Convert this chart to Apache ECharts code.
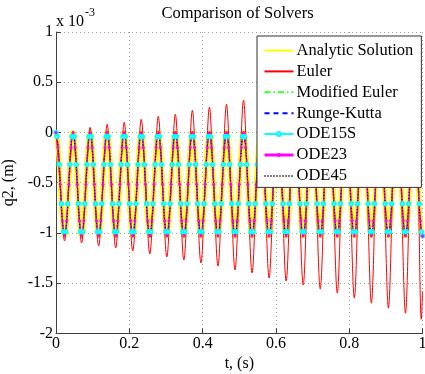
<!DOCTYPE html>
<html>
<head>
<meta charset="utf-8">
<script src="https://cdn.jsdelivr.net/npm/echarts@6/dist/echarts.min.js"></script>
<style>
html,body{margin:0;padding:0;background:#fff;}
#chart{width:425px;height:374px;}
</style>
</head>
<body>
<div id="chart"></div>
<script>
// Time samples of the solver solutions (s), 8 per cycle
const tSolver = [
0, 0.0058, 0.0116, 0.0174, 0.0233, 0.0291, 0.0349, 0.0407,
0.0465, 0.0523, 0.0581, 0.0639, 0.0698, 0.0756, 0.0814, 0.0872,
0.093, 0.0988, 0.1046, 0.1104, 0.1163, 0.1221, 0.1279, 0.1337,
0.1395, 0.1453, 0.1511, 0.1569, 0.1628, 0.1686, 0.1744, 0.1802,
0.186, 0.1918, 0.1976, 0.2034, 0.2093, 0.2151, 0.2209, 0.2267,
0.2325, 0.2383, 0.2441, 0.2499, 0.2558, 0.2616, 0.2674, 0.2732,
0.279, 0.2848, 0.2906, 0.2964, 0.3023, 0.3081, 0.3139, 0.3197,
0.3255, 0.3313, 0.3371, 0.3429, 0.3488, 0.3546, 0.3604, 0.3662,
0.372, 0.3778, 0.3836, 0.3894, 0.3953, 0.4011, 0.4069, 0.4127,
0.4185, 0.4243, 0.4301, 0.4359, 0.4418, 0.4476, 0.4534, 0.4592,
0.465, 0.4708, 0.4766, 0.4824, 0.4883, 0.4941, 0.4999, 0.5057,
0.5115, 0.5173, 0.5231, 0.5289, 0.5348, 0.5406, 0.5464, 0.5522,
0.558, 0.5638, 0.5696, 0.5754, 0.5813, 0.5871, 0.5929, 0.5987,
0.6045, 0.6103, 0.6161, 0.6219, 0.6278, 0.6336, 0.6394, 0.6452,
0.651, 0.6568, 0.6626, 0.6684, 0.6743, 0.6801, 0.6859, 0.6917,
0.6975, 0.7033, 0.7091, 0.7149, 0.7208, 0.7266, 0.7324, 0.7382,
0.744, 0.7498, 0.7556, 0.7614, 0.7673, 0.7731, 0.7789, 0.7847,
0.7905, 0.7963, 0.8021, 0.8079, 0.8138, 0.8196, 0.8254, 0.8312,
0.837, 0.8428, 0.8486, 0.8544, 0.8603, 0.8661, 0.8719, 0.8777,
0.8835, 0.8893, 0.8951, 0.9009, 0.9068, 0.9126, 0.9184, 0.9242,
0.93, 0.9358, 0.9416, 0.9474, 0.9533, 0.9591, 0.9649, 0.9707,
0.9765, 0.9823, 0.9881, 0.9939, 0.9998, 1.0
];
// Analytic solution q2 (x 10^-3 m); Modified Euler, Runge-Kutta, ODE23, ODE45 coincide with it
const analytic = [
0, -0.15, -0.515, -0.88, -1.03, -0.88, -0.515, -0.15,
0, -0.15, -0.515, -0.88, -1.03, -0.88, -0.515, -0.15,
0, -0.15, -0.515, -0.88, -1.03, -0.88, -0.515, -0.15,
0, -0.15, -0.515, -0.88, -1.03, -0.88, -0.515, -0.15,
0, -0.15, -0.515, -0.88, -1.03, -0.88, -0.515, -0.15,
0, -0.15, -0.515, -0.88, -1.03, -0.88, -0.515, -0.15,
0, -0.15, -0.515, -0.88, -1.03, -0.88, -0.515, -0.15,
0, -0.15, -0.515, -0.88, -1.03, -0.88, -0.515, -0.15,
0, -0.15, -0.515, -0.88, -1.03, -0.88, -0.515, -0.15,
0, -0.15, -0.515, -0.88, -1.03, -0.88, -0.515, -0.15,
0, -0.15, -0.515, -0.88, -1.03, -0.88, -0.515, -0.15,
0, -0.15, -0.515, -0.88, -1.03, -0.88, -0.515, -0.15,
0, -0.15, -0.515, -0.88, -1.03, -0.88, -0.515, -0.15,
0, -0.15, -0.515, -0.88, -1.03, -0.88, -0.515, -0.15,
0, -0.15, -0.515, -0.88, -1.03, -0.88, -0.515, -0.15,
0, -0.15, -0.515, -0.88, -1.03, -0.88, -0.515, -0.15,
0, -0.15, -0.515, -0.88, -1.03, -0.88, -0.515, -0.15,
0, -0.15, -0.515, -0.88, -1.03, -0.88, -0.515, -0.15,
0, -0.15, -0.515, -0.88, -1.03, -0.88, -0.515, -0.15,
0, -0.15, -0.515, -0.88, -1.03, -0.88, -0.515, -0.15,
0, -0.15, -0.515, -0.88, -1.03, -0.88, -0.515, -0.15,
0, -0.15, -0.515, -0.88, -1.03, -1.03
];
const modEuler = analytic;
const rungeKutta = analytic;
const ode23 = analytic;
const ode45 = analytic;

// ODE15S solver steps (s) and values (x 10^-3 m)
const tOde15s = [
0, 0.0029, 0.0087, 0.0145, 0.0203, 0.0262, 0.032, 0.0378, 0.0436,
0.0494, 0.0552, 0.061, 0.0668, 0.0727, 0.0785, 0.0843, 0.0901,
0.0959, 0.1017, 0.1075, 0.1133, 0.1192, 0.125, 0.1308, 0.1366,
0.1424, 0.1482, 0.154, 0.1598, 0.1657, 0.1715, 0.1773, 0.1831,
0.1889, 0.1947, 0.2005, 0.2063, 0.2122, 0.218, 0.2238, 0.2296,
0.2354, 0.2412, 0.247, 0.2528, 0.2587, 0.2645, 0.2703, 0.2761,
0.2819, 0.2877, 0.2935, 0.2993, 0.3052, 0.311, 0.3168, 0.3226,
0.3284, 0.3342, 0.34, 0.3458, 0.3517, 0.3575, 0.3633, 0.3691,
0.3749, 0.3807, 0.3865, 0.3923, 0.3982, 0.404, 0.4098, 0.4156,
0.4214, 0.4272, 0.433, 0.4388, 0.4447, 0.4505, 0.4563, 0.4621,
0.4679, 0.4737, 0.4795, 0.4853, 0.4912, 0.497, 0.5028, 0.5086,
0.5144, 0.5202, 0.526, 0.5318, 0.5377, 0.5435, 0.5493, 0.5551,
0.5609, 0.5667, 0.5725, 0.5783, 0.5842, 0.59, 0.5958, 0.6016,
0.6074, 0.6132, 0.619, 0.6248, 0.6307, 0.6365, 0.6423, 0.6481,
0.6539, 0.6597, 0.6655, 0.6713, 0.6772, 0.683, 0.6888, 0.6946,
0.7004, 0.7062, 0.712, 0.7178, 0.7237, 0.7295, 0.7353, 0.7411,
0.7469, 0.7527, 0.7585, 0.7643, 0.7702, 0.776, 0.7818, 0.7876,
0.7934, 0.7992, 0.805, 0.8108, 0.8167, 0.8225, 0.8283, 0.8341,
0.8399, 0.8457, 0.8515, 0.8573, 0.8632, 0.869, 0.8748, 0.8806,
0.8864, 0.8922, 0.898, 0.9038, 0.9097, 0.9155, 0.9213, 0.9271,
0.9329, 0.9387, 0.9445, 0.9503, 0.9562, 0.962, 0.9678, 0.9736,
0.9794, 0.9852, 0.991, 0.9968, 1.0
];
const ode15s = [
0, -0.04, -0.32, -0.71, -0.99, -0.99, -0.71, -0.32, -0.04,
-0.04, -0.32, -0.71, -0.99, -0.99, -0.71, -0.32, -0.04,
-0.04, -0.32, -0.71, -0.99, -0.99, -0.71, -0.32, -0.04,
-0.04, -0.32, -0.71, -0.99, -0.99, -0.71, -0.32, -0.04,
-0.04, -0.32, -0.71, -0.99, -0.99, -0.71, -0.32, -0.04,
-0.04, -0.32, -0.71, -0.99, -0.99, -0.71, -0.32, -0.04,
-0.04, -0.32, -0.71, -0.99, -0.99, -0.71, -0.32, -0.04,
-0.04, -0.32, -0.71, -0.99, -0.99, -0.71, -0.32, -0.04,
-0.04, -0.32, -0.71, -0.99, -0.99, -0.71, -0.32, -0.04,
-0.04, -0.32, -0.71, -0.99, -0.99, -0.71, -0.32, -0.04,
-0.04, -0.32, -0.71, -0.99, -0.99, -0.71, -0.32, -0.04,
-0.04, -0.32, -0.71, -0.99, -0.99, -0.71, -0.32, -0.04,
-0.04, -0.32, -0.71, -0.99, -0.99, -0.71, -0.32, -0.04,
-0.04, -0.32, -0.71, -0.99, -0.99, -0.71, -0.32, -0.04,
-0.04, -0.32, -0.71, -0.99, -0.99, -0.71, -0.32, -0.04,
-0.04, -0.32, -0.71, -0.99, -0.99, -0.71, -0.32, -0.04,
-0.04, -0.32, -0.71, -0.99, -0.99, -0.71, -0.32, -0.04,
-0.04, -0.32, -0.71, -0.99, -0.99, -0.71, -0.32, -0.04,
-0.04, -0.32, -0.71, -0.99, -0.99, -0.71, -0.32, -0.04,
-0.04, -0.32, -0.71, -0.99, -0.99, -0.71, -0.32, -0.04,
-0.04, -0.32, -0.71, -0.99, -0.99, -0.71, -0.32, -0.04,
-0.04, -0.32, -0.71, -0.99, -1.03
];

// Euler solution: peaks, mid-crossings and troughs (4 per cycle)
const tEuler = [
0, 0.0116, 0.0233, 0.0349,
0.0465, 0.0581, 0.0698, 0.0814,
0.093, 0.1046, 0.1163, 0.1279,
0.1395, 0.1511, 0.1628, 0.1744,
0.186, 0.1976, 0.2093, 0.2209,
0.2325, 0.2441, 0.2558, 0.2674,
0.279, 0.2906, 0.3023, 0.3139,
0.3255, 0.3371, 0.3488, 0.3604,
0.372, 0.3836, 0.3953, 0.4069,
0.4185, 0.4301, 0.4418, 0.4534,
0.465, 0.4766, 0.4883, 0.4999,
0.5115, 0.5231, 0.5348, 0.5464,
0.558, 0.5696, 0.5813, 0.5929,
0.6045, 0.6161, 0.6278, 0.6394,
0.651, 0.6626, 0.6743, 0.6859,
0.6975, 0.7091, 0.7208, 0.7324,
0.744, 0.7556, 0.7673, 0.7789,
0.7905, 0.8021, 0.8138, 0.8254,
0.837, 0.8486, 0.8603, 0.8719,
0.8835, 0.8951, 0.9068, 0.9184,
0.93, 0.9416, 0.9533, 0.9649,
0.9765, 0.9881, 0.9965, 1.0
];
const euler = [
0, -0.54, -1.08, -0.54,
0.01, -0.54, -1.10, -0.54,
0.05, -0.54, -1.13, -0.54,
0.08, -0.54, -1.15, -0.54,
0.10, -0.54, -1.18, -0.54,
0.13, -0.54, -1.21, -0.54,
0.16, -0.54, -1.24, -0.54,
0.18, -0.54, -1.27, -0.54,
0.22, -0.54, -1.30, -0.54,
0.25, -0.54, -1.33, -0.54,
0.28, -0.54, -1.37, -0.54,
0.32, -0.54, -1.40, -0.54,
0.36, -0.54, -1.45, -0.54,
0.40, -0.54, -1.48, -0.54,
0.44, -0.54, -1.52, -0.54,
0.48, -0.54, -1.56, -0.54,
0.52, -0.54, -1.60, -0.54,
0.56, -0.54, -1.65, -0.54,
0.61, -0.54, -1.70, -0.54,
0.66, -0.54, -1.75, -0.54,
0.71, -0.54, -1.80, -0.54,
0.76, -0.54, -1.86, -1.58
];

const seriesNames = ['Analytic Solution','Euler','Modified Euler','Runge-Kutta','ODE15S','ODE23','ODE45'];
const xTicks = [0, 0.2, 0.4, 0.6, 0.8, 1];
const yTicks = [-2, -1.5, -1, -0.5, 0, 0.5, 1];

const FONT = 'Liberation Serif';
const pts = (t, v) => t.map((x, i) => [x, v[i]]);

const chart = echarts.init(document.getElementById('chart'), null, {renderer: 'canvas'});
const axisCol = '#404040';
const gridLine = {show: true, lineStyle: {color: '#a0a0a0', type: [1, 3], width: 1}};
const noSym = {opacity: 0};

chart.setOption({
  animation: false,
  backgroundColor: '#fff',
  grid: {left: 56, right: 2.4, top: 32, bottom: 40.7, containLabel: false, outerBoundsMode: 'none'},
  xAxis: {
    type: 'value', min: xTicks[0], max: xTicks[xTicks.length - 1], interval: 0.2,
    name: 't, (s)', nameLocation: 'middle', nameGap: 19,
    nameTextStyle: {fontFamily: FONT, fontSize: 16, color: '#000'},
    axisLine: {onZero: false, lineStyle: {color: axisCol, width: 1}},
    axisTick: {inside: true, length: 5, lineStyle: {color: axisCol}},
    axisLabel: {fontFamily: FONT, fontSize: 16, color: '#000', margin: 2, hideOverlap: false,
      formatter: v => String(Math.round(v * 10) / 10)},
    splitLine: gridLine
  },
  yAxis: {
    type: 'value', min: yTicks[0], max: yTicks[yTicks.length - 1], interval: 0.5,
    name: 'q2, (m)', nameLocation: 'middle', nameGap: 32,
    nameTextStyle: {fontFamily: FONT, fontSize: 16, color: '#000'},
    axisLine: {show: true, onZero: false, lineStyle: {color: axisCol, width: 1}},
    axisTick: {show: true, inside: true, length: 5, lineStyle: {color: axisCol}},
    axisLabel: {fontFamily: FONT, fontSize: 16, color: '#000', margin: 3, hideOverlap: false},
    splitLine: gridLine
  },
  legend: {
    data: [
      {name: seriesNames[0], itemStyle: noSym, lineStyle: {width: 2}},
      {name: seriesNames[1], itemStyle: noSym},
      {name: seriesNames[2], itemStyle: noSym},
      {name: seriesNames[3], itemStyle: noSym},
      {name: seriesNames[4]},
      {name: seriesNames[5], lineStyle: {width: 3}},
      {name: seriesNames[6], itemStyle: noSym}
    ],
    orient: 'vertical',
    left: 257, top: 36,
    padding: [6, 8, 3, 6],
    itemWidth: 29, itemHeight: 5, itemGap: 3.9,
    backgroundColor: '#fff',
    borderColor: '#333', borderWidth: 1, borderRadius: 0,
    textStyle: {fontFamily: FONT, fontSize: 16.5, color: '#000', padding: [0, 0, 0, -2]}
  },
  graphic: [
    {type: 'text', x: 237.5, y: 14, style: {text: 'Comparison of Solvers', font: '16.5px "Liberation Serif"', fill: '#000', align: 'center', verticalAlign: 'middle'}},
    {type: 'text', x: 56, y: 22, style: {text: 'x 10', font: '16px "Liberation Serif"', fill: '#000', align: 'left', verticalAlign: 'middle'}},
    {type: 'text', x: 85, y: 13, style: {text: '-3', font: '12px "Liberation Serif"', fill: '#000', align: 'left', verticalAlign: 'middle'}}
  ],
  series: [
    {name: seriesNames[0], type: 'line', data: pts(tSolver, analytic), smooth: 0.5, symbol: 'none',
      lineStyle: {color: '#ffff00', width: 5}, itemStyle: {color: '#ffff00'}},
    {name: seriesNames[1], type: 'line', data: pts(tEuler, euler), smooth: 0.35, symbol: 'none',
      lineStyle: {color: '#ff0000', width: 1}, itemStyle: {color: '#ff0000'}},
    {name: seriesNames[2], type: 'line', data: pts(tSolver, modEuler), smooth: 0.5, symbol: 'none',
      lineStyle: {color: '#33ff33', width: 1.5, type: [6, 3, 1.5, 3]}, itemStyle: {color: '#33ff33'}},
    {name: seriesNames[3], type: 'line', data: pts(tSolver, rungeKutta), smooth: 0.5, symbol: 'none',
      lineStyle: {color: '#0000ff', width: 1, type: [5, 4]}, itemStyle: {color: '#0000ff'}},
    {name: seriesNames[4], type: 'line', data: pts(tOde15s, ode15s), smooth: 0.5, symbol: 'emptyCircle', symbolSize: 3.5,
      showSymbol: true, showAllSymbol: true,
      lineStyle: {color: '#00ffff', width: 1}, itemStyle: {color: '#00ffff', borderColor: '#00e0e0', borderWidth: 1}},
    {name: seriesNames[5], type: 'line', data: pts(tSolver, ode23), smooth: 0.5, symbol: 'circle', symbolSize: 3,
      showSymbol: true, showAllSymbol: true,
      lineStyle: {color: '#ff00ff', width: 1.5}, itemStyle: {color: '#ff00ff'}},
    {name: seriesNames[6], type: 'line', data: pts(tSolver, ode45), smooth: 0.5, symbol: 'none',
      lineStyle: {color: '#000000', width: 1, type: [1, 2]}, itemStyle: {color: '#000000'}}
  ]
});
</script>
</body>
</html>
